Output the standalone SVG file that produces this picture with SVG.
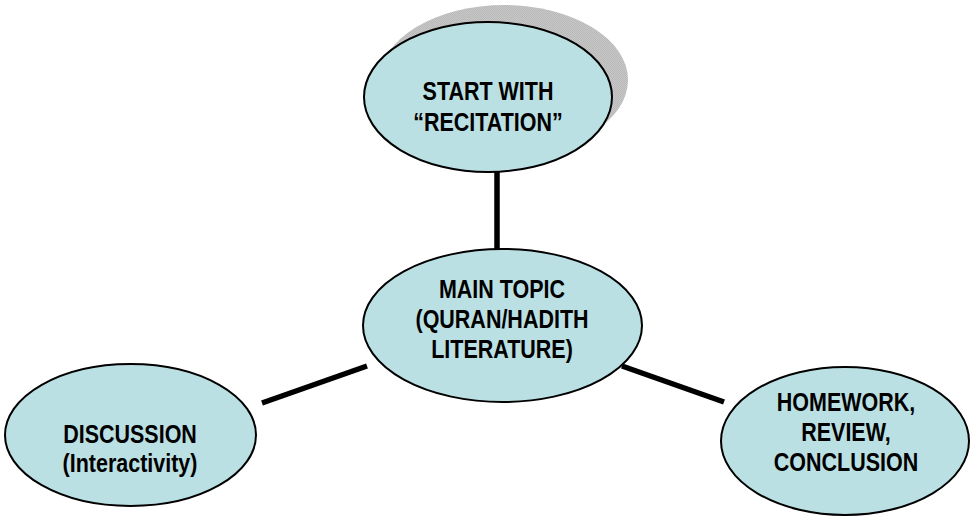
<svg xmlns="http://www.w3.org/2000/svg" width="977" height="517" viewBox="0 0 977 517">
  <style>
    .node { fill: #bbe0e3; stroke: #000; stroke-width: 2; }
    .lbl { font-family: "Liberation Sans", Arial, sans-serif; font-weight: bold; font-size: 25px; fill: #000; text-anchor: middle; }
    .conn { stroke: #000; stroke-width: 5.5; fill: none; }
  </style>
  <defs>
    <pattern id="checker" width="2" height="2" patternUnits="userSpaceOnUse">
      <rect width="2" height="2" fill="#c8c8c8"/>
      <rect width="1" height="1" fill="#b8b8b8"/>
      <rect x="1" y="1" width="1" height="1" fill="#b8b8b8"/>
    </pattern>
  </defs>
  <rect width="977" height="517" fill="#fff"/>
  <g id="connectors">
    <line class="conn" x1="497" y1="172" x2="497" y2="249"/>
    <line class="conn" x1="262" y1="403" x2="367" y2="366"/>
    <line class="conn" x1="622" y1="366" x2="724" y2="402"/>
  </g>
  <g id="node-start">
    <ellipse cx="504" cy="80" rx="124" ry="75" fill="url(#checker)"/>
    <ellipse class="node" cx="488" cy="97" rx="124" ry="75"/>
    <text class="lbl" transform="translate(488 100) scale(0.86 1)">START WITH</text>
    <text class="lbl" transform="translate(488 131) scale(0.86 1)">“RECITATION”</text>
  </g>
  <g id="node-main">
    <ellipse class="node" cx="502.5" cy="325.5" rx="139.5" ry="76.5"/>
    <text class="lbl" transform="translate(502 298) scale(0.86 1)">MAIN TOPIC</text>
    <text class="lbl" transform="translate(502 328) scale(0.86 1)">(QURAN/HADITH</text>
    <text class="lbl" transform="translate(502 358) scale(0.86 1)">LITERATURE)</text>
  </g>
  <g id="node-discussion">
    <ellipse class="node" cx="130.5" cy="435" rx="125.5" ry="71"/>
    <text class="lbl" transform="translate(130 443) scale(0.86 1)">DISCUSSION</text>
    <text class="lbl" transform="translate(130 472) scale(0.86 1)">(Interactivity)</text>
  </g>
  <g id="node-homework">
    <ellipse class="node" cx="845" cy="441" rx="124" ry="74"/>
    <text class="lbl" transform="translate(846 411) scale(0.86 1)">HOMEWORK,</text>
    <text class="lbl" transform="translate(846 441) scale(0.86 1)">REVIEW,</text>
    <text class="lbl" transform="translate(846 471) scale(0.86 1)">CONCLUSION</text>
  </g>
</svg>
